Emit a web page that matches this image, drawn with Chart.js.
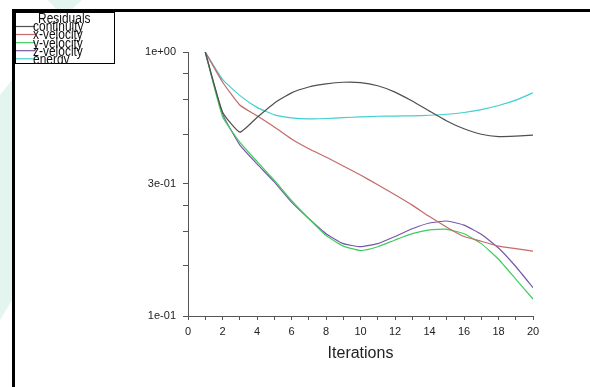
<!DOCTYPE html>
<html><head><meta charset="utf-8">
<script src="https://cdn.jsdelivr.net/npm/chart.js@4/dist/chart.umd.min.js"></script>
<style>html,body{margin:0;padding:0;background:#fff;overflow:hidden}canvas{display:block}</style>
</head><body>
<canvas id="c" width="590" height="387"></canvas>
<script>
const iterations = [1,2,3,4,5,6,7,8,9,10,11,12,13,14,15,16,17,18,19,20];
const continuity = [1.0,0.593,0.497,0.565,0.640,0.700,0.737,0.757,0.768,0.766,0.745,0.705,0.652,0.597,0.548,0.512,0.488,0.478,0.480,0.484];
const xVelocity = [1.0,0.770,0.630,0.573,0.520,0.468,0.430,0.400,0.370,0.342,0.314,0.288,0.263,0.238,0.217,0.200,0.192,0.184,0.180,0.176];
const yVelocity = [1.0,0.570,0.456,0.385,0.327,0.274,0.234,0.202,0.184,0.177,0.183,0.194,0.205,0.212,0.213,0.205,0.188,0.164,0.138,0.116];
const zVelocity = [1.0,0.583,0.445,0.377,0.322,0.270,0.234,0.205,0.188,0.183,0.188,0.200,0.214,0.225,0.229,0.221,0.204,0.181,0.154,0.128];
const energy = [1.0,0.787,0.685,0.617,0.578,0.563,0.558,0.560,0.564,0.568,0.571,0.572,0.573,0.576,0.581,0.590,0.605,0.627,0.657,0.700];

const seriesNames = ['continuity','x-velocity','y-velocity','z-velocity','energy'];
const legendTitle = 'Residuals';
const xTitle = 'Iterations';
const xTickValues = [0,1,2,3,4,5,6,7,8,9,10,11,12,13,14,15,16,17,18,19,20];
const yMajorTicks = [1, 0.31623, 0.1];
const yMajorLabels = ['1e+00','3e-01','1e-01'];
const yMinorTicks = [0.829, 0.658, 0.487, 0.2625, 0.2087, 0.155];

const colors = ['#4f4f4f','#c46a6a','#3fcc5e','#7658a8','#42cfcf'];
const FONT = '"Liberation Sans", Arial, sans-serif';
const seriesData = [continuity, xVelocity, yVelocity, zVelocity, energy];

const datasets = seriesData.map((arr, i) => ({
  label: seriesNames[i],
  data: arr.map((v, k) => ({x: iterations[k], y: v})),
  borderColor: colors[i],
  backgroundColor: colors[i],
  borderWidth: 1.2,
  pointRadius: 0,
  tension: 0.15,
  fill: false
}));

const decor = {
  id: 'decor',
  beforeDraw(chart) {
    const ctx = chart.ctx;
    ctx.save();
    ctx.fillStyle = '#fff';
    ctx.fillRect(0, 0, 590, 387);
    // faint watermark shapes
    ctx.fillStyle = '#e4f4ee';
    ctx.beginPath(); ctx.moveTo(48,0); ctx.lineTo(82,0); ctx.lineTo(72,9); ctx.lineTo(56,9); ctx.closePath(); ctx.fill();
    ctx.beginPath(); ctx.moveTo(0,95); ctx.lineTo(12,80); ctx.lineTo(12,300); ctx.lineTo(0,320); ctx.closePath(); ctx.fill();
    // frame
    ctx.fillStyle = '#000';
    ctx.fillRect(12, 9, 578, 3);
    ctx.fillRect(12, 9, 3, 378);
    ctx.restore();
  },
  afterDraw(chart) {
    const ctx = chart.ctx;
    ctx.save();
    ctx.fillStyle = '#fff';
    ctx.fillRect(15, 12, 100, 52);
    ctx.strokeStyle = '#000';
    ctx.lineWidth = 1;
    ctx.strokeRect(15.5, 12.5, 99, 51);
    ctx.beginPath(); ctx.rect(15, 12, 100, 52); ctx.clip();
    ctx.fillStyle = '#111';
    ctx.font = '13px ' + FONT;
    ctx.textBaseline = 'alphabetic';
    const drawText = (t, x, y) => {
      ctx.save(); ctx.translate(x, y); ctx.scale(0.92, 1.1); ctx.fillText(t, 0, 0); ctx.restore();
    };
    drawText(legendTitle, 38, 22.5);
    const baselines = [31, 39.3, 47.7, 55.5, 63.8];
    const lineYs = [26.5, 34.5, 42.7, 50.7, 58.8];
    seriesNames.forEach((n, i) => {
      ctx.strokeStyle = colors[i];
      ctx.lineWidth = 1.2;
      ctx.beginPath(); ctx.moveTo(16, lineYs[i]); ctx.lineTo(35, lineYs[i]); ctx.stroke();
      ctx.fillStyle = '#111';
      drawText(n, 33, baselines[i]);
    });
    ctx.restore();
  }
};

new Chart(document.getElementById('c'), {
  type: 'line',
  data: { datasets },
  plugins: [decor],
  options: {
    responsive: false,
    animation: false,
    devicePixelRatio: 1,
    layout: { padding: { left: 0, right: 57, top: 52, bottom: 0 } },
    plugins: { legend: { display: false }, tooltip: { enabled: false } },
    scales: {
      x: {
        type: 'linear', min: 0, max: 20,
        afterBuildTicks: s => { s.ticks = xTickValues.map(v => ({ value: v })); },
        afterFit: s => { s.height = 71; },
        ticks: {
          autoSkip: false, maxRotation: 0, padding: 5,
          callback: v => (v % 2 === 0 ? String(v) : ''),
          font: { family: FONT, size: 11 }, color: '#222'
        },
        grid: { drawOnChartArea: false, drawTicks: true, tickLength: 4, color: '#555' },
        border: { color: '#555', width: 1 },
        title: { display: true, text: xTitle, font: { family: FONT, size: 16 }, color: '#222', padding: { top: 0, bottom: 24 } }
      },
      y: {
        type: 'logarithmic', min: 0.1, max: 1,
        afterBuildTicks: s => { s.ticks = yMajorTicks.concat(yMinorTicks).sort((a,b)=>b-a).map(v => ({ value: v })); },
        afterFit: s => { s.width = 188; },
        ticks: {
          autoSkip: false, padding: 7,
          callback: v => { const i = yMajorTicks.findIndex(m => Math.abs(m - v) < 1e-4); return i >= 0 ? yMajorLabels[i] : ''; },
          font: { family: FONT, size: 11 }, color: '#222'
        },
        grid: { drawOnChartArea: false, drawTicks: true, tickLength: 5, color: '#555' },
        border: { color: '#555', width: 1 }
      }
    }
  }
});
</script>
</body></html>
